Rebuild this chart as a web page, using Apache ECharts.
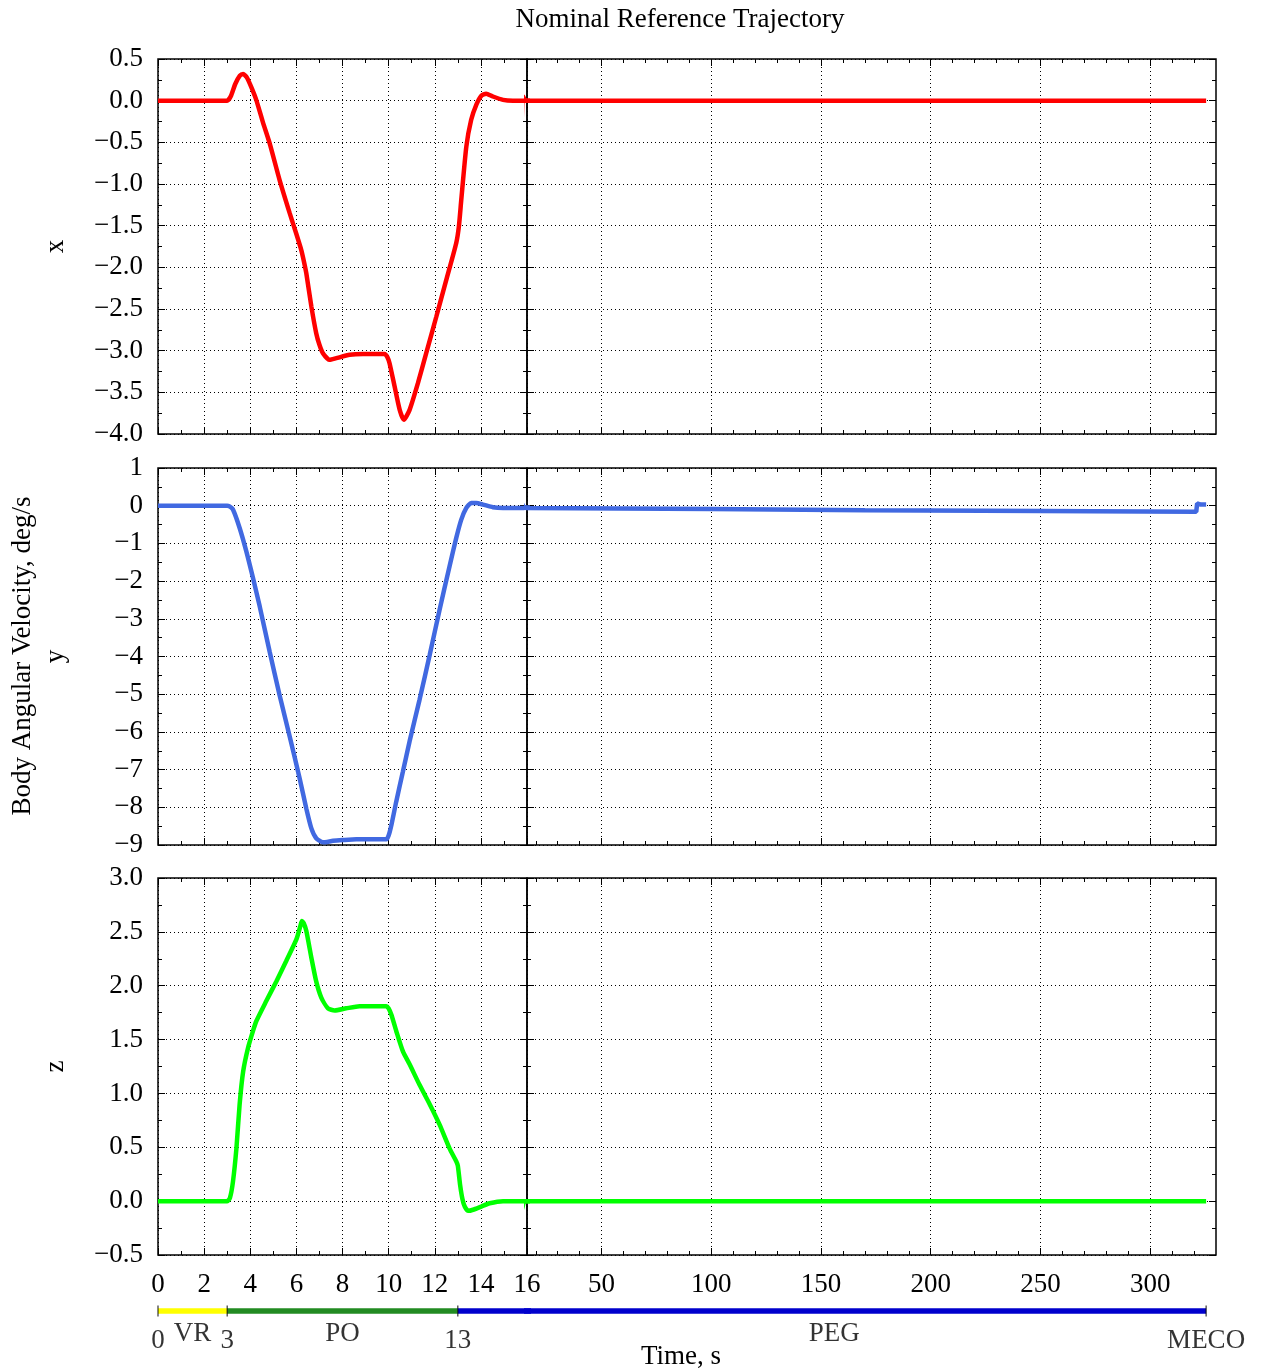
<!DOCTYPE html>
<html>
<head>
<meta charset="utf-8">
<title>Nominal Reference Trajectory</title>
<script src="https://cdn.jsdelivr.net/npm/echarts@6/dist/echarts.min.js"></script>
<style>
  html, body { margin: 0; padding: 0; background: #fff; }
  #chart { width: 1264px; height: 1372px; }
</style>
</head>
<body>
<div id="chart"></div>
<script>
// body angular velocity (deg/s) against time (s)
var xTime = [0, 3.0, 3.15, 3.35, 3.55, 3.69, 3.85, 4.05, 4.26, 4.55, 4.84, 5.27, 5.71, 6.0, 6.21, 6.32, 6.43, 6.65, 6.86, 7.0,
  7.15, 7.44, 7.73, 8.31, 8.89, 9.83, 9.95, 10.04, 10.26, 10.48, 10.66, 10.91, 11.27, 11.63, 12.07, 12.5, 12.93, 13.05, 13.15, 13.37,
  13.58, 13.8, 14.02, 14.23, 14.52, 14.96, 15.39, 16, 325.5];
var xRate = [0, 0, 0.05, 0.2, 0.3, 0.32, 0.28, 0.16, 0.01, -0.26, -0.51, -0.95, -1.35, -1.6, -1.79, -1.92, -2.07, -2.47, -2.79, -2.93,
  -3.03, -3.11, -3.09, -3.05, -3.04, -3.04, -3.08, -3.15, -3.43, -3.71, -3.83, -3.71, -3.39, -3.03, -2.59, -2.15, -1.71, -1.5, -1.19, -0.55,
  -0.23, -0.05, 0.06, 0.084, 0.05, 0.01, 0, 0, 0];

var yTime = [0, 3.0, 3.1, 3.25, 3.54, 3.83, 4.12, 4.41, 4.84, 5.27, 5.71, 6.14, 6.43, 6.65, 6.86, 7.15, 7.59, 8.02, 8.6, 9.9,
  10.0, 10.12, 10.33, 10.62, 10.91, 11.34, 11.78, 12.21, 12.64, 12.93, 13.15, 13.37, 13.58, 13.8, 14.09, 14.52, 14.96, 15.82, 16, 100,
  170, 250, 321, 321.4, 322.3, 323, 325.5];
var yRate = [0, 0, -0.02, -0.1, -0.59, -1.21, -1.92, -2.67, -3.87, -5.02, -6.12, -7.23, -8.03, -8.56, -8.82, -8.93, -8.89, -8.87, -8.85, -8.85,
  -8.75, -8.47, -7.85, -7.05, -6.25, -5.15, -3.96, -2.76, -1.61, -0.86, -0.37, -0.06, 0.07, 0.07, 0.03, -0.04, -0.06, -0.06, -0.05, -0.09,
  -0.12, -0.14, -0.16, 0.06, 0.06, 0.03, 0.03];

var zTime = [0, 3.0, 3.12, 3.25, 3.4, 3.54, 3.69, 3.9, 4.12, 4.26, 4.7, 5.13, 5.56, 6.0, 6.18, 6.24, 6.32, 6.43, 6.65, 6.86,
  7.08, 7.37, 7.66, 8.16, 8.74, 9.9, 10.0, 10.12, 10.33, 10.62, 10.91, 11.34, 11.78, 12.21, 12.64, 12.93, 13.0, 13.1, 13.2, 13.3,
  13.45, 13.66, 14.02, 14.38, 14.96, 16, 325.5];
var zRate = [0, 0, 0.03, 0.18, 0.49, 0.9, 1.2, 1.42, 1.58, 1.67, 1.86, 2.04, 2.23, 2.43, 2.56, 2.6, 2.58, 2.51, 2.26, 2.04,
  1.89, 1.79, 1.77, 1.79, 1.81, 1.81, 1.79, 1.73, 1.58, 1.39, 1.27, 1.08, 0.9, 0.71, 0.49, 0.37, 0.33, 0.15, 0.02, -0.05,
  -0.09, -0.08, -0.05, -0.02, 0, 0, 0];

// flight phases
var meco = 325.5;
var phaseNames = ['VR', 'PO', 'PEG'];
var phaseStart = [0, 3, 13];
var phaseEnd = [3, 13, meco];
var phaseColors = ['#ffff00', '#228b22', '#0000cd'];
var phaseNameAt = [1.5, 8, 156];
var boundaryLabels = ['0', '3', '13', 'MECO'];

// time axis: 0..16 s stretched on the left, 16..330 s on the right
var tSplit = 16;
var tEnd = 330;
var pegTicks = [50, 100, 150, 200, 250, 300];
var pegMinorTicks = [20, 30, 40, 60, 70, 80, 90, 110, 120, 130, 140, 160, 170, 180, 190,
  210, 220, 230, 240, 260, 270, 280, 290, 310, 320];

var FONT = 'Liberation Serif';
var FS = 27;
var LEFT = 158, MID = 527, RIGHT = 1216;

var panels = [
  { name: 'x', t: xTime, v: xRate, color: '#ff0000', min: -4, max: 0.5, step: 0.5, digits: 1, top: 59, height: 375 },
  { name: 'y', t: yTime, v: yRate, color: '#4169e1', min: -9, max: 1, step: 1, digits: 0, top: 468, height: 377 },
  { name: 'z', t: zTime, v: zRate, color: '#00ff00', min: -0.5, max: 3, step: 0.5, digits: 1, top: 878, height: 377 }
];

function pairs(t, v) {
  return t.map(function (x, i) { return [x, v[i]]; });
}

var dotted = { show: true, lineStyle: { color: '#000', width: 1, type: [1, 3] } };
var tickStyle = { color: '#000', width: 1 };

function axis(gridIndex, position, min, max) {
  return {
    type: 'value', gridIndex: gridIndex, position: position, min: min, max: max,
    axisLine: { show: false, onZero: false },
    axisTick: { show: true, inside: true, length: 7, lineStyle: tickStyle },
    minorTick: { show: false },
    axisLabel: { show: false },
    splitLine: { show: false }
  };
}
function minor(ax, n) {
  ax.minorTick = { show: true, splitNumber: n, length: 4, lineStyle: tickStyle };
  return ax;
}
function custom(ax, values, len) {
  ax.axisTick.customValues = values;
  ax.axisTick.length = len;
  return ax;
}
var xLabelStyle = { show: true, color: '#000', fontFamily: FONT, fontSize: FS, margin: 16 };
var yLabelStyle = { show: true, color: '#000', fontFamily: FONT, fontSize: FS, margin: 15 };

var grids = [], xAxes = [], yAxes = [], series = [];

panels.forEach(function (p, r) {
  var last = r === panels.length - 1;
  var gL = grids.length;
  grids.push({ left: LEFT, top: p.top, width: MID - LEFT, height: p.height, show: true,
    borderColor: '#000', borderWidth: 1.5, backgroundColor: 'transparent', containLabel: false, outerBoundsMode: 'none' });
  var gR = grids.length;
  grids.push({ left: MID, top: p.top, width: RIGHT - MID, height: p.height, show: true,
    borderColor: '#000', borderWidth: 1.5, backgroundColor: 'transparent', containLabel: false, outerBoundsMode: 'none' });

  // left part x axes
  var xl = minor(axis(gL, 'bottom', 0, tSplit), 2);
  xl.interval = 2;
  xl.splitLine = dotted;
  if (last) xl.axisLabel = xLabelStyle;
  var xlIdx = xAxes.length; xAxes.push(xl);
  var xlt = minor(axis(gL, 'top', 0, tSplit), 2); xlt.interval = 2; xAxes.push(xlt);

  // right part x axes
  var xr = custom(axis(gR, 'bottom', tSplit, tEnd), pegTicks, 7);
  xr.splitLine = dotted;
  if (last) xr.axisLabel = Object.assign({ customValues: pegTicks }, xLabelStyle);
  var xrIdx = xAxes.length; xAxes.push(xr);
  xAxes.push(custom(axis(gR, 'bottom', tSplit, tEnd), pegMinorTicks, 4));
  xAxes.push(custom(axis(gR, 'top', tSplit, tEnd), pegTicks, 7));
  xAxes.push(custom(axis(gR, 'top', tSplit, tEnd), pegMinorTicks, 4));

  // y axes
  var yl = minor(axis(gL, 'left', p.min, p.max), 2);
  yl.interval = p.step;
  yl.splitLine = dotted;
  yl.axisLabel = Object.assign({}, yLabelStyle, {
    formatter: (function (d) { return function (v) { return v.toFixed(d).replace('-', '\u2212'); }; })(p.digits)
  });
  yl.name = p.name;
  yl.nameLocation = 'middle';
  yl.nameRotate = 90;
  yl.nameGap = 89;
  yl.nameTextStyle = { color: '#000', fontFamily: FONT, fontSize: FS };
  var ylIdx = yAxes.length; yAxes.push(yl);
  var ylr = minor(axis(gL, 'right', p.min, p.max), 2); ylr.interval = p.step; yAxes.push(ylr);

  var yr = minor(axis(gR, 'left', p.min, p.max), 2);
  yr.interval = p.step;
  yr.splitLine = dotted;
  var yrIdx = yAxes.length; yAxes.push(yr);
  var yrr = minor(axis(gR, 'right', p.min, p.max), 2); yrr.interval = p.step; yAxes.push(yrr);

  var data = pairs(p.t, p.v);
  [[xlIdx, ylIdx, 0.2], [xrIdx, yrIdx, false]].forEach(function (ix) {
    series.push({
      type: 'line', xAxisIndex: ix[0], yAxisIndex: ix[1], data: data,
      showSymbol: false, smooth: ix[2], clip: true, silent: true,
      lineStyle: { color: p.color, width: 4.5 }, z: 3
    });
  });
});

// phase bar below the time axis
var pL = grids.length;
grids.push({ left: LEFT, top: 1301, width: MID - LEFT, height: 20, show: false, containLabel: false, outerBoundsMode: 'none' });
var pR = grids.length;
grids.push({ left: MID, top: 1301, width: RIGHT - MID, height: 20, show: false, containLabel: false, outerBoundsMode: 'none' });
var phaseAx = [[pL, 0, tSplit], [pR, tSplit, tEnd]].map(function (g) {
  var xi = xAxes.length;
  xAxes.push({ type: 'value', gridIndex: g[0], min: g[1], max: g[2], show: false });
  var yi = yAxes.length;
  yAxes.push({ type: 'value', gridIndex: g[0], min: -1, max: 1, show: false });
  return { x: xi, y: yi, lo: g[1], hi: g[2] };
});

var boundaries = phaseStart.concat([meco]);
phaseAx.forEach(function (a) {
  phaseNames.forEach(function (n, i) {
    series.push({
      type: 'line', xAxisIndex: a.x, yAxisIndex: a.y, clip: true, silent: true,
      data: [[phaseStart[i], 0], [phaseEnd[i], 0]], showSymbol: false,
      lineStyle: { color: phaseColors[i], width: 5.5 }, z: 2
    });
  });
  var inside = function (t) { return t >= a.lo && t <= a.hi && !(a.lo > 0 && t === a.lo); };
  var marks = boundaries.filter(inside).map(function (t) { return [t, 0]; });
  series.push({
    type: 'scatter', xAxisIndex: a.x, yAxisIndex: a.y, silent: true, data: marks,
    symbol: 'rect', symbolSize: [1.2, 11], itemStyle: { color: '#000' }, z: 4
  });
  var labels = [];
  boundaries.forEach(function (t, i) { if (inside(t)) labels.push({ value: [t, 0], name: boundaryLabels[i], off: 30 }); });
  phaseNameAt.forEach(function (t, i) { if (inside(t)) labels.push({ value: [t, 0], name: phaseNames[i], off: 23 }); });
  labels.forEach(function (l) {
    series.push({
      type: 'scatter', xAxisIndex: a.x, yAxisIndex: a.y, silent: true,
      data: [{ value: l.value, name: l.name }], symbolSize: 1, itemStyle: { color: 'rgba(0,0,0,0)' },
      label: { show: true, formatter: '{b}', position: 'inside', offset: [0, l.off],
        color: '#000', fontFamily: FONT, fontSize: FS }
    });
  });
});

var chart = echarts.init(document.getElementById('chart'), null, { renderer: 'canvas' });
chart.setOption({
  backgroundColor: '#fff',
  animation: false,
  grid: grids,
  xAxis: xAxes,
  yAxis: yAxes,
  series: series,
  graphic: [
    { type: 'text', x: 680, y: 20, silent: true,
      style: { text: 'Nominal Reference Trajectory', fill: '#000', fontFamily: FONT, fontSize: FS,
        textAlign: 'center', textVerticalAlign: 'middle' } },
    { type: 'text', x: 681, y: 1357, silent: true,
      style: { text: 'Time, s', fill: '#000', fontFamily: FONT, fontSize: FS,
        textAlign: 'center', textVerticalAlign: 'middle' } },
    { type: 'text', x: 23, y: 656, rotation: Math.PI / 2, silent: true,
      style: { text: 'Body Angular Velocity, deg/s', fill: '#000', fontFamily: FONT, fontSize: FS,
        textAlign: 'center', textVerticalAlign: 'middle' } }
  ]
});
</script>
</body>
</html>
